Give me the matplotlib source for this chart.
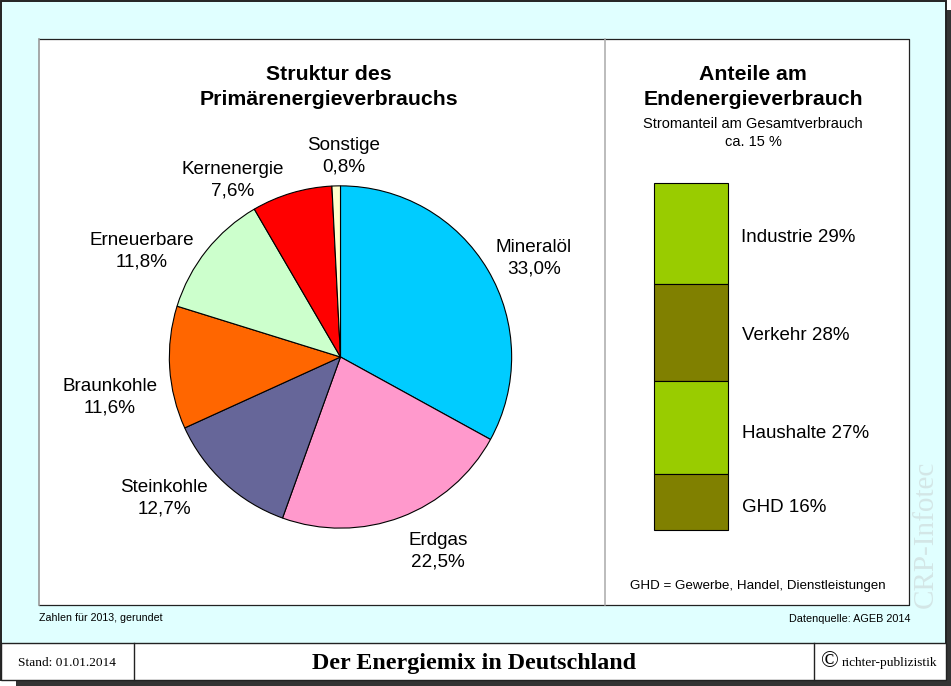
import matplotlib
matplotlib.use("Agg")
import matplotlib.pyplot as plt
from matplotlib.patches import Rectangle

pie_labels = ["Mineralöl", "Erdgas", "Steinkohle", "Braunkohle", "Erneuerbare", "Kernenergie", "Sonstige"]
pie_values = [33.0, 22.5, 12.7, 11.6, 11.8, 7.6, 0.8]
pie_colors = ["#00CCFF", "#FF99CC", "#666699", "#FF6600", "#CCFFCC", "#FF0000", "#FFFFCC"]
pie_text_px = [(534, 257), (438, 550), (164, 497), (110, 396), (142, 250), (233, 179), (344, 155)]

bar_labels = ["Industrie 29%", "Verkehr 28%", "Haushalte 27%", "GHD 16%"]
bar_values = [29, 28, 27, 16]
bar_colors = ["#99CC00", "#808000", "#99CC00", "#808000"]
bar_text_px = [(798, 236.5), (795.5, 335), (805.5, 432), (784, 506)]

W, H = 951, 686
plt.rcParams["font.family"] = ["Liberation Sans", "DejaVu Sans"]
fig = plt.figure(figsize=(W / 100, H / 100), dpi=100, facecolor="white")

def px_axes(x0, y0, x1, y1, **kw):
    return fig.add_axes([x0 / W, 1 - y1 / H, (x1 - x0) / W, (y1 - y0) / H], **kw)

bg = px_axes(0, 0, W, H)
bg.set_xlim(0, W); bg.set_ylim(H, 0); bg.axis("off")
dark = "#222222"
bg.add_patch(Rectangle((16, 10), W - 16, H - 10, fc="#333333", ec="none", zorder=0))
bg.add_patch(Rectangle((1, 1), 945, 679, fc="#E0FFFF", ec=dark, lw=1.4, zorder=1))
bg.add_patch(Rectangle((39, 39), 870, 566, fc="white", ec="none", zorder=2))
bg.plot([39, 909, 909, 39], [39, 39, 605, 605], color=dark, lw=0.9, zorder=3)
bg.plot([39, 39], [39, 605], color="#999999", lw=1.2, zorder=4)
bg.plot([604.5, 604.5], [39, 605], color="#AAAAAA", lw=1.1, zorder=3)
bg.add_patch(Rectangle((1, 643), 945, 37, fc="white", ec=dark, lw=1.0, zorder=3))
bg.plot([133.5, 133.5], [643, 680], color=dark, lw=1.0, zorder=4)
bg.plot([813.5, 813.5], [643, 680], color=dark, lw=1.0, zorder=4)

pie_ax = px_axes(168.5, 185, 512.5, 529)
pie_ax.pie(pie_values, colors=pie_colors, startangle=90, counterclock=False, radius=1.0,
           wedgeprops=dict(edgecolor="black", linewidth=0.8))
pie_ax.set_xlim(-1.005, 1.005); pie_ax.set_ylim(-1.005, 1.005)

bar_ax = px_axes(654, 183, 727.5, 530)
bottom = 0
for v, c in zip(bar_values, bar_colors):
    bar_ax.bar(0, v, bottom=bottom, width=1, color=c, edgecolor="black", linewidth=0.8, clip_on=False)
    bottom += v
bar_ax.set_xlim(-0.5, 0.5); bar_ax.set_ylim(100, 0); bar_ax.axis("off")
pie_ax.patch.set_alpha(0)
bar_ax.patch.set_alpha(0)

T = dict(ha="center", va="center", zorder=6)
def t(x, y, s, size, **kw):
    bg.text(x, y + 1, s, fontsize=size, **{**T, **kw})

bg.set_zorder(0); pie_ax.set_zorder(1); bar_ax.set_zorder(1)
t(329, 73.5, "Struktur des", 15.3, fontweight="bold")
t(329, 98.5, "Primärenergieverbrauchs", 15.3, fontweight="bold")
t(753, 73.5, "Anteile am", 15.3, fontweight="bold")
t(753, 98.5, "Endenergieverbrauch", 15.3, fontweight="bold")
t(753, 122.5, "Stromanteil am Gesamtverbrauch", 10.5)
t(753, 141, "ca. 15 %", 10.5)
t(757.5, 585, "GHD = Gewerbe, Handel, Dienstleistungen", 9.6)
t(100.5, 617, "Zahlen für 2013, gerundet", 7.7)
t(850, 618, "Datenquelle: AGEB 2014", 7.8)

for (x, y), name, v in zip(pie_text_px, pie_labels, pie_values):
    val = f"{v:.1f}%".replace(".", ",")
    t(x, y, f"{name}\n{val}", 13.6, linespacing=1.32)

for (x, y), s in zip(bar_text_px, bar_labels):
    t(x, y, s, 13.5)

SER = ["Liberation Serif", "DejaVu Serif"]
t(67, 662, "Stand: 01.01.2014", 9.6, family=SER)
t(474, 662, "Der Energiemix in Deutschland", 17.3, family=SER, fontweight="bold")
t(829.5, 661, "©", 17, family=SER)
t(889.5, 662, "richter-publizistik", 9.6, family=SER)
t(926, 533, "CRP-Infotec", 21, family=SER, rotation=90, color="#D3E6E6")

fig.savefig("out.png", dpi=100, facecolor="white")
